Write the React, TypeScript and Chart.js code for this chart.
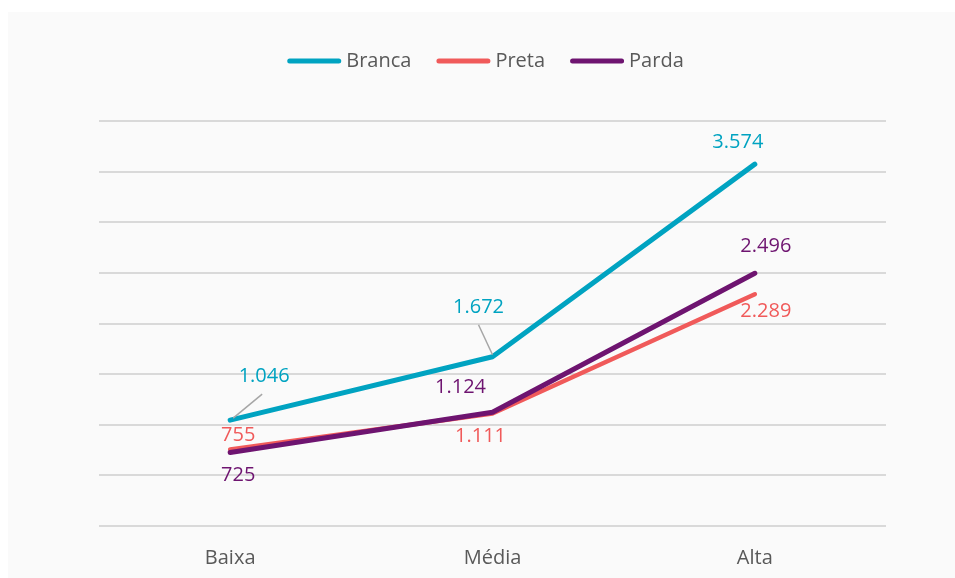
import React, { useEffect, useRef } from "react";
import { Chart, registerables } from "chart.js";

Chart.register(...registerables);

const categories = ["Baixa", "Média", "Alta"];
const seriesNames = ["Branca", "Preta", "Parda"];
const branca = [1046, 1672, 3574];
const preta = [755, 1111, 2289];
const parda = [725, 1124, 2496];
const yMax = 4000;
const yStep = 500;

const colors = ["#00A3C1", "#F05A5A", "#6E1470"];
const lineWidths = [5, 4.5, 5];
// label offsets relative to the point (style only)
const labelOffsets = [
  [[34, -44], [-14, -49], [-17, -22]],
  [[8, -14], [-12, 23], [11, 17]],
  [[8, 23], [-32, -25], [11, -27]],
];
// leader lines (dataset 0 only): [start offset, end offset] or null
const leaders = [
  [[[3, -2], [32, -26]], [[0, -2], [-14, -32]], null],
  [null, null, null],
  [null, null, null],
];

const FONT = "'Open Sans', sans-serif";
const fmt = (n: number) => String(n).replace(/\B(?=(\d{3})+(?!\d))/g, ".");

const labelPlugin = {
  id: "customLabels",
  afterDatasetsDraw(chart: any) {
    const ctx = chart.ctx;
    ctx.save();
    chart.data.datasets.forEach((ds: any, di: number) => {
      const meta = chart.getDatasetMeta(di);
      meta.data.forEach((pt: any, i: number) => {
        const ld = leaders[di][i];
        if (ld) {
          ctx.beginPath();
          ctx.strokeStyle = "#A6A6A6";
          ctx.lineWidth = 1.5;
          ctx.moveTo(pt.x + ld[0][0], pt.y + ld[0][1]);
          ctx.lineTo(pt.x + ld[1][0], pt.y + ld[1][1]);
          ctx.stroke();
        }
      });
    });
    chart.data.datasets.forEach((ds: any, di: number) => {
      const meta = chart.getDatasetMeta(di);
      meta.data.forEach((pt: any, i: number) => {
        const off = labelOffsets[di][i];
        ctx.font = `20px ${FONT}`;
        ctx.fillStyle = colors[di];
        ctx.textAlign = "center";
        ctx.textBaseline = "middle";
        ctx.fillText(fmt(ds.data[i]), pt.x + off[0], pt.y + off[1]);
      });
    });
    ctx.restore();
  },
  afterDraw(chart: any) {
    const ctx = chart.ctx;
    ctx.save();
    ctx.font = `20px ${FONT}`;
    const lineLen = 54;
    const gap = 5;
    const itemGap = 25;
    const widths = seriesNames.map((n) => ctx.measureText(n).width);
    const total =
      widths.reduce((a, w) => a + lineLen + gap + w, 0) + itemGap * (seriesNames.length - 1);
    let x = chart.width / 2 + 4 - total / 2;
    const y = 49;
    seriesNames.forEach((n, i) => {
      ctx.beginPath();
      ctx.strokeStyle = colors[i];
      ctx.lineWidth = 5;
      ctx.lineCap = "round";
      ctx.moveTo(x + 2.5, y);
      ctx.lineTo(x + lineLen - 2.5, y);
      ctx.stroke();
      ctx.fillStyle = "#595959";
      ctx.textAlign = "left";
      ctx.textBaseline = "middle";
      ctx.fillText(n, x + lineLen + gap, y);
      x += lineLen + gap + widths[i] + itemGap;
    });
    ctx.restore();
  },
};

export default function App() {
  const ref = useRef<HTMLCanvasElement>(null);
  useEffect(() => {
    if (!ref.current) return;
    const data = [branca, preta, parda];
    const chart = new Chart(ref.current, {
      type: "line",
      data: {
        labels: categories,
        datasets: seriesNames.map((name, i) => ({
          label: name,
          data: data[i],
          borderColor: colors[i],
          backgroundColor: colors[i],
          borderWidth: lineWidths[i],
          pointRadius: 0,
          tension: 0,
          borderCapStyle: "round",
          borderJoinStyle: "round",
          order: i === 0 ? 0 : i === 2 ? 1 : 2,
        })),
      },
      options: {
        responsive: false,
        animation: false,
        devicePixelRatio: 1,
        layout: { padding: { left: 91, right: 69, top: 109, bottom: 9 } },
        plugins: {
          legend: { display: false },
          tooltip: { enabled: false },
        },
        scales: {
          x: {
            offset: true,
            grid: { display: false, drawTicks: false },
            border: { display: false },
            ticks: {
              color: "#595959",
              font: { family: FONT, size: 20 },
              padding: 20,
            },
            afterFit: (scale: any) => {
              scale.height = 43;
            },
          },
          y: {
            min: 0,
            max: yMax,
            ticks: { display: false, stepSize: yStep },
            border: { display: false },
            grid: { color: "#D9D9D9", lineWidth: 2, drawTicks: false },
          },
        },
      },
      plugins: [labelPlugin],
    } as any);
    return () => chart.destroy();
  }, []);
  return (
    <div
      style={{
        position: "absolute",
        left: 8,
        top: 12,
        width: 947,
        height: 566,
        background: "#FAFAFA",
      }}
    >
      <canvas ref={ref} width={947} height={566} style={{ width: 947, height: 566, display: "block" }} />
    </div>
  );
}
